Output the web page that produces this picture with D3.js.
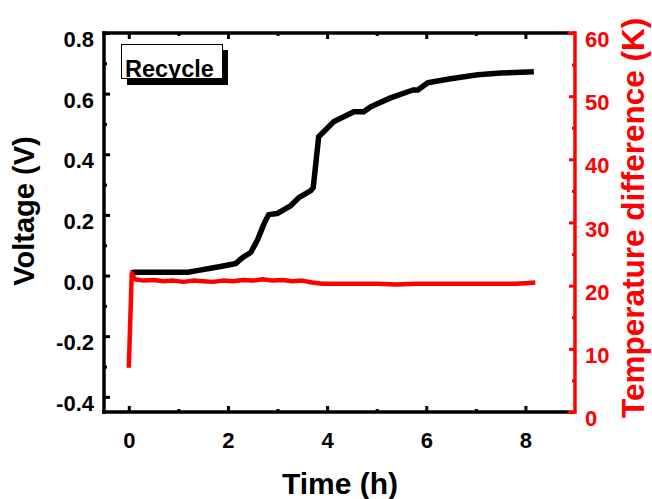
<!DOCTYPE html>
<html>
<head>
<meta charset="utf-8">
<script src="https://cdn.jsdelivr.net/npm/d3@7"></script>
<style>
html,body{margin:0;padding:0;background:#fff;}
svg{display:block;font-family:"Liberation Sans",Arial,sans-serif;font-weight:bold;}
</style>
</head>
<body>
<svg id="chart" width="652" height="499"></svg>
<script>
// ---- data ----
const voltTime = [0.05, 0.10, 0.65, 1.19, 1.41, 1.65, 1.85, 2.16, 2.30, 2.46, 2.60, 2.72, 2.82, 3.00, 3.27, 3.43, 3.67, 3.72, 3.83, 4.13, 4.54, 4.74, 4.88, 5.28, 5.73, 5.83, 6.03, 6.49, 7.04, 7.50, 8.17];
const voltage  = [0.008, 0.011, 0.011, 0.011, 0.017, 0.024, 0.030, 0.040, 0.060, 0.076, 0.119, 0.168, 0.201, 0.205, 0.231, 0.257, 0.280, 0.290, 0.458, 0.507, 0.540, 0.540, 0.557, 0.586, 0.612, 0.612, 0.636, 0.649, 0.662, 0.668, 0.672];
const tempTime = [0, 0.06, 0.12, 0.3, 0.5, 0.7, 0.9, 1.1, 1.3, 1.5, 1.7, 1.9, 2.1, 2.3, 2.5, 2.7, 2.9, 3.1, 3.3, 3.5, 3.7, 3.9, 4.2, 4.6, 5.0, 5.4, 5.8, 6.2, 6.6, 7.0, 7.4, 7.8, 8.0, 8.2];
const tempDiff = [7.0, 22.0, 21.0, 20.8, 20.9, 20.7, 20.8, 20.6, 20.8, 20.7, 20.6, 20.8, 20.7, 20.9, 20.8, 21.0, 20.8, 20.9, 20.7, 20.8, 20.5, 20.3, 20.3, 20.3, 20.3, 20.2, 20.3, 20.3, 20.3, 20.3, 20.3, 20.3, 20.4, 20.5];
const xMajor = [0, 2, 4, 6, 8];
const xMinor = [1, 3, 5, 7];
const yLMajor = [-0.4, -0.2, 0.0, 0.2, 0.4, 0.6, 0.8];
const yLMinor = [-0.3, -0.1, 0.1, 0.3, 0.5, 0.7];
const yRMajor = [0, 10, 20, 30, 40, 50, 60];
const yRMinor = [5, 15, 25, 35, 45, 55];
const legendLabel = "Recycle";
const xTitle = "Time (h)";
const yLTitle = "Voltage (V)";
const yRTitle = "Temperature difference (K)";

// ---- layout ----
const L = 104, R = 575, T = 33, B = 412;
const svg = d3.select("#chart");
const x = d3.scaleLinear().domain([-0.5, 9]).range([L, R]);
const yL = d3.scaleLinear().domain([-0.45, 0.8]).range([B, T]);
const yR = d3.scaleLinear().domain([0, 60]).range([B, T]);
const RED = "#ff0000";
const FONT = '"Liberation Sans",Arial,sans-serif';

function styleAxis(g, color, fs) {
  g.select(".domain").attr("stroke", color).attr("stroke-width", 3.5);
  g.selectAll(".tick line").attr("stroke", color).attr("stroke-width", 3);
  g.selectAll(".tick text").attr("fill", color).attr("font-size", fs)
    .attr("font-weight", "bold").attr("font-family", FONT);
}

// minor ticks
function minor(axisFn, scale, vals, size, tr, color) {
  const g = svg.append("g").attr("transform", tr)
    .call(axisFn(scale).tickValues(vals).tickSize(size).tickSizeOuter(0).tickFormat(""));
  g.select(".domain").remove();
  g.selectAll(".tick line").attr("stroke", color).attr("stroke-width", 3);
}
minor(d3.axisBottom, x, xMinor, -3, `translate(0,${B})`, "#000");
minor(d3.axisTop, x, xMinor, -3, `translate(0,${T})`, "#000");
minor(d3.axisLeft, yL, yLMinor, -3, `translate(${L},0)`, "#000");
minor(d3.axisRight, yR, yRMinor, -3, `translate(${R},0)`, RED);

// top axis
const gTop = svg.append("g").attr("transform", `translate(0,${T})`)
  .call(d3.axisTop(x).tickValues(xMajor).tickSize(-6).tickSizeOuter(0).tickFormat(""));
styleAxis(gTop, "#000", 22);
gTop.select(".domain").attr("d", `M${L - 1.75},0H${R - 6}`);

// bottom axis
const gBot = svg.append("g").attr("transform", `translate(0,${B})`)
  .call(d3.axisBottom(x).tickValues(xMajor).tickSize(-6).tickSizeOuter(0).tickPadding(36).tickFormat(d => String(d)));
styleAxis(gBot, "#000", 22);
gBot.select(".domain").attr("d", `M${L - 1.75},0H${R - 6}`);
gBot.selectAll(".tick text").attr("dy", "0");

// left axis
const gLeft = svg.append("g").attr("transform", `translate(${L},0)`)
  .call(d3.axisLeft(yL).tickValues(yLMajor).tickSize(-6).tickSizeOuter(0).tickPadding(10).tickFormat(d => d.toFixed(1)));
styleAxis(gLeft, "#000", 22);
gLeft.select(".domain").attr("d", `M0,${T - 1.75}V${B + 1.75}`);
gLeft.selectAll(".tick text").attr("dy", "0.62em");

// right axis
const gRight = svg.append("g").attr("transform", `translate(${R},0)`)
  .call(d3.axisRight(yR).tickValues(yRMajor).tickSize(-6).tickSizeOuter(0).tickPadding(10).tickFormat(d => String(d)));
styleAxis(gRight, RED, 22);
gRight.select(".domain").attr("d", `M0,${T - 1.75}V${B + 1.75}`);
svg.append("line").attr("x1", R - 7).attr("x2", R).attr("y1", T).attr("y2", T).attr("stroke", RED).attr("stroke-width", 3.5);
svg.append("line").attr("x1", R - 7).attr("x2", R).attr("y1", B).attr("y2", B).attr("stroke", RED).attr("stroke-width", 3.5);
gRight.selectAll(".tick text").attr("dy", "0.62em");

// lines
const vLine = d3.line().x((d, i) => x(voltTime[i])).y(d => yL(d));
svg.append("path").datum(voltage).attr("d", vLine)
  .attr("fill", "none").attr("stroke", "#000").attr("stroke-width", 5.5).attr("stroke-linejoin", "round");
const tLine = d3.line().x((d, i) => x(tempTime[i])).y(d => yR(d));
svg.append("path").datum(tempDiff).attr("d", tLine)
  .attr("fill", "none").attr("stroke", RED).attr("stroke-width", 4.5).attr("stroke-linejoin", "round");

// legend
svg.append("rect").attr("x", 127).attr("y", 50).attr("width", 101).attr("height", 35).attr("fill", "#000");
svg.append("rect").attr("x", 121.5).attr("y", 44.5).attr("width", 101).attr("height", 34).attr("fill", "#fff").attr("stroke", "#000").attr("stroke-width", 1);
svg.append("text").attr("x", 125).attr("y", 77).attr("font-size", 23.5).attr("fill", "#000").text(legendLabel);

// titles
svg.append("text").attr("x", 340).attr("y", 494).attr("text-anchor", "middle")
  .attr("font-size", 30).attr("fill", "#000").text(xTitle);
svg.append("text").attr("transform", `translate(34,211) rotate(-90)`).attr("text-anchor", "middle")
  .attr("font-size", 29).attr("fill", "#000").text(yLTitle);
svg.append("text").attr("transform", `translate(644,418) rotate(-90)`).attr("text-anchor", "start")
  .attr("font-size", 31.5).attr("fill", RED).text(yRTitle);
</script>
</body>
</html>
